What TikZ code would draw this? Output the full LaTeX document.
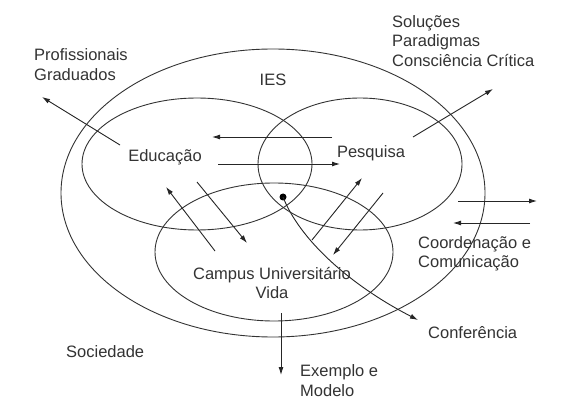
\documentclass[tikz,border=0pt]{standalone}
\usepackage{fontspec}
\setmainfont{Liberation Sans}
\usetikzlibrary{arrows.meta}
\begin{document}
\begin{tikzpicture}[x=1pt,y=-1pt,
  ring/.style={draw=black!80,line width=0.9pt},
  arr/.style={draw=black!85,line width=0.9pt,-{Latex[length=8pt,width=5pt]}},
  lbl/.style={inner sep=0pt,font=\fontsize{16.5}{19.5}\selectfont,text=black!80},
  lbll/.style={lbl,anchor=west,align=left}]
\useasboundingbox[fill=white] (0,0) rectangle (577,419);
% ellipses
\draw[ring] (273,193) ellipse [x radius=212pt,y radius=144pt];
\draw[ring] (197,164) ellipse [x radius=115pt,y radius=66pt];
\draw[ring] (360,164) ellipse [x radius=102pt,y radius=66pt];
\draw[ring] (274,252) ellipse [x radius=119pt,y radius=69pt];
% labels
\node[lbll] (prof) at (34,64.5) {Profissionais\\Graduados};
\node[lbl] (ies) at (273,80) {IES};
\node[lbl] (edu) at (165,157) {Educação};
\node[lbl] (pes) at (371,153) {Pesquisa};
\node[lbll] (sol) at (392,41) {Soluções\\Paradigmas\\Consciência Crítica};
\node[lbl,align=center] (camp) at (272,283) {Campus Universitário\\Vida};
\node[lbll] (coord) at (418,254) {Coordenação e\\Comunicação};
\node[lbll] (conf) at (428,333) {Conferência};
\node[lbll] (soc) at (66,352) {Sociedade};
\node[lbll] (exem) at (300,380.5) {Exemplo e\\Modelo};
% arrow end points
\coordinate (p1) at (120,145); \coordinate (p2) at (42,97);
\coordinate (t1) at (332,137); \coordinate (t2) at (212,137);
\coordinate (b1) at (218,164); \coordinate (b2) at (340,164);
\coordinate (s1) at (413,137); \coordinate (s2) at (493,89);
\coordinate (c1) at (458,201); \coordinate (c2) at (537,201);
\coordinate (c3) at (530,223); \coordinate (c4) at (453,223);
\coordinate (e1) at (215,251); \coordinate (e2) at (166,187);
\coordinate (e3) at (197,182); \coordinate (e4) at (247,243);
\coordinate (q1) at (312,240); \coordinate (q2) at (362,178);
\coordinate (q3) at (383,193); \coordinate (q4) at (333,255);
\coordinate (dot) at (283,197); \coordinate (f2) at (418,320);
\coordinate (x1) at (281,313); \coordinate (x2) at (281,375);
% arrows
\draw[arr] (p1) -- (p2);
\draw[arr] (t1) -- (t2);
\draw[arr] (b1) -- (b2);
\draw[arr] (s1) -- (s2);
\draw[arr] (c1) -- (c2);
\draw[arr] (c3) -- (c4);
\draw[arr] (e1) -- (e2);
\draw[arr] (e3) -- (e4);
\draw[arr] (q1) -- (q2);
\draw[arr] (q3) -- (q4);
\fill[black] (dot) circle [radius=3.5pt];
\draw[arr] (dot) .. controls (300,240) and (350,285) .. (f2);
\draw[arr] (x1) -- (x2);
\end{tikzpicture}
\end{document}
